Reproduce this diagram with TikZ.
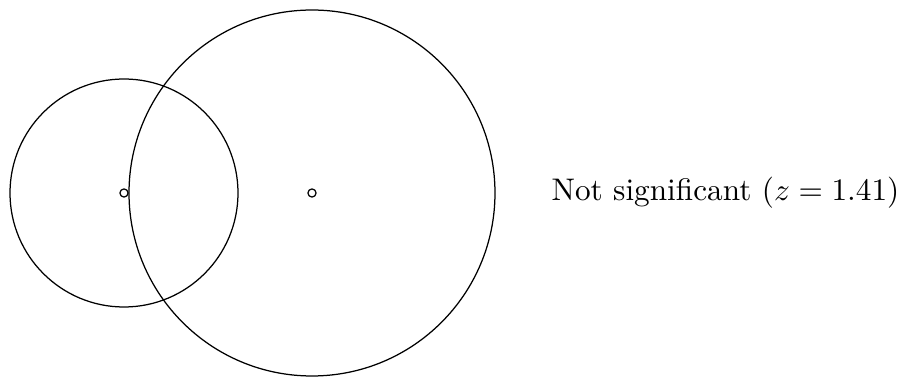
\documentclass[tikz,border=0pt]{standalone}
\usepackage{amsmath}
\usepackage{tikz}
\usetikzlibrary{positioning}

\begin{document}
\begin{tikzpicture}[
  x=0.32pt, y=-0.32pt,
  ring/.style={circle, draw=black, inner sep=0pt, outer sep=0pt},
  centre/.style={circle, draw=black, inner sep=0pt, minimum size=2.6pt},
  note/.style={anchor=west, inner sep=0pt, font=\normalsize}
]
\useasboundingbox (0,0) rectangle (904,378);

\node[ring, minimum size=72.96pt] (small) at (124,193) {};
\node[ring, minimum size=117.12pt] (big) at (312,193) {};
\node[centre] (smallc) at (small.center) {};
\node[centre] (bigc) at (big.center) {};

\node[note] (result) at (551,193) {Not significant $(z = 1.41)$};

\end{tikzpicture}
\end{document}
